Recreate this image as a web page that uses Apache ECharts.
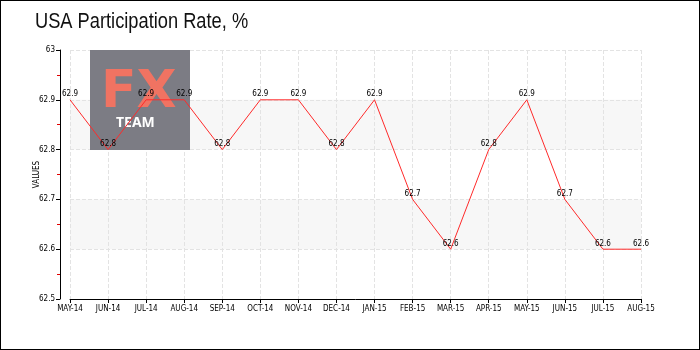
<!DOCTYPE html>
<html><head><meta charset="utf-8">
<script src="https://cdn.jsdelivr.net/npm/echarts@6/dist/echarts.min.js"></script>
<style>html,body{margin:0;padding:0;background:#fff}#c{width:698px;height:348px;border:1px solid #000}</style>
</head><body><div id="c"></div>
<script>
const categories = ['MAY-14','JUN-14','JUL-14','AUG-14','SEP-14','OCT-14','NOV-14','DEC-14','JAN-15','FEB-15','MAR-15','APR-15','MAY-15','JUN-15','JUL-15','AUG-15'];
const values = [62.9,62.8,62.9,62.9,62.8,62.9,62.9,62.8,62.9,62.7,62.6,62.8,62.9,62.7,62.6,62.6];
const yMin = 62.5, yMax = 63, yStep = 0.1;
const titleText = 'USA Participation Rate, %';
const yName = 'VALUES';

const chart = echarts.init(document.getElementById('c'));
const lblFont = 'DejaVu Sans Condensed';
chart.setOption({
  animation: false,
  grid: {left: 69, right: 58, top: 49, bottom: 50},
  graphic: [
    {type: 'text', x: 34, y: 10, scaleX: 0.83, style: {text: titleText, fill: '#111', font: '22px "Liberation Sans Narrow", "Liberation Sans"'}, z: 3},
    {type: 'rect', left: 89, top: 49, shape: {width: 100, height: 100}, style: {fill: '#7c7c84'}, z: 1},
    {type: 'text', left: 100, top: 66, style: {text: 'FX', fill: '#f07362', font: 'bold 52px "DejaVu Sans"'}, z: 2},
    {type: 'text', left: 115, top: 115, style: {text: 'TEAM', fill: '#ffffff', font: 'bold 14px "Noto Sans"'}, z: 2}
  ],
  xAxis: {
    type: 'category', data: categories, boundaryGap: false,
    axisLine: {lineStyle: {color: '#000'}},
    axisTick: {show: true, length: 4, lineStyle: {color: '#000'}},
    axisLabel: {color: '#000', fontSize: 8, fontFamily: lblFont, margin: 6},
    splitLine: {show: true, lineStyle: {color: '#e3e3e3', type: 'dashed'}}
  },
  yAxis: {
    type: 'value', min: yMin, max: yMax, interval: yStep, offset: 10,
    name: yName, nameLocation: 'middle', nameGap: 19, nameRotate: 90, nameMoveOverlap: false,
    nameTextStyle: {color: '#000', fontSize: 8, fontFamily: lblFont},
    axisLine: {show: true, lineStyle: {color: '#000'}},
    axisTick: {show: true, length: 4, lineStyle: {color: '#000'}},
    minorTick: {show: true, splitNumber: 2, length: 3, lineStyle: {color: '#e00000'}},
    axisLabel: {color: '#000', fontSize: 8, fontFamily: lblFont, margin: 5, formatter: v => (Math.round(v*10)/10).toString()},
    splitLine: {show: true, lineStyle: {color: '#e3e3e3', type: 'dashed'}},
    splitArea: {show: true, areaStyle: {color: ['rgba(0,0,0,0)', '#f7f7f7']}}
  },
  series: [{
    type: 'line', data: values, symbol: 'circle', symbolSize: 1, showSymbol: true, z: 5,
    itemStyle: {color: 'rgba(0,0,0,0)', borderWidth: 0},
    lineStyle: {color: '#ff2a2a', width: 1},
    labelLayout: {hideOverlap: false},
    label: {show: true, position: 'top', distance: 1, color: '#000', fontSize: 8, fontFamily: lblFont, formatter: p => p.value.toFixed(1)}
  }]
});
</script></body></html>
